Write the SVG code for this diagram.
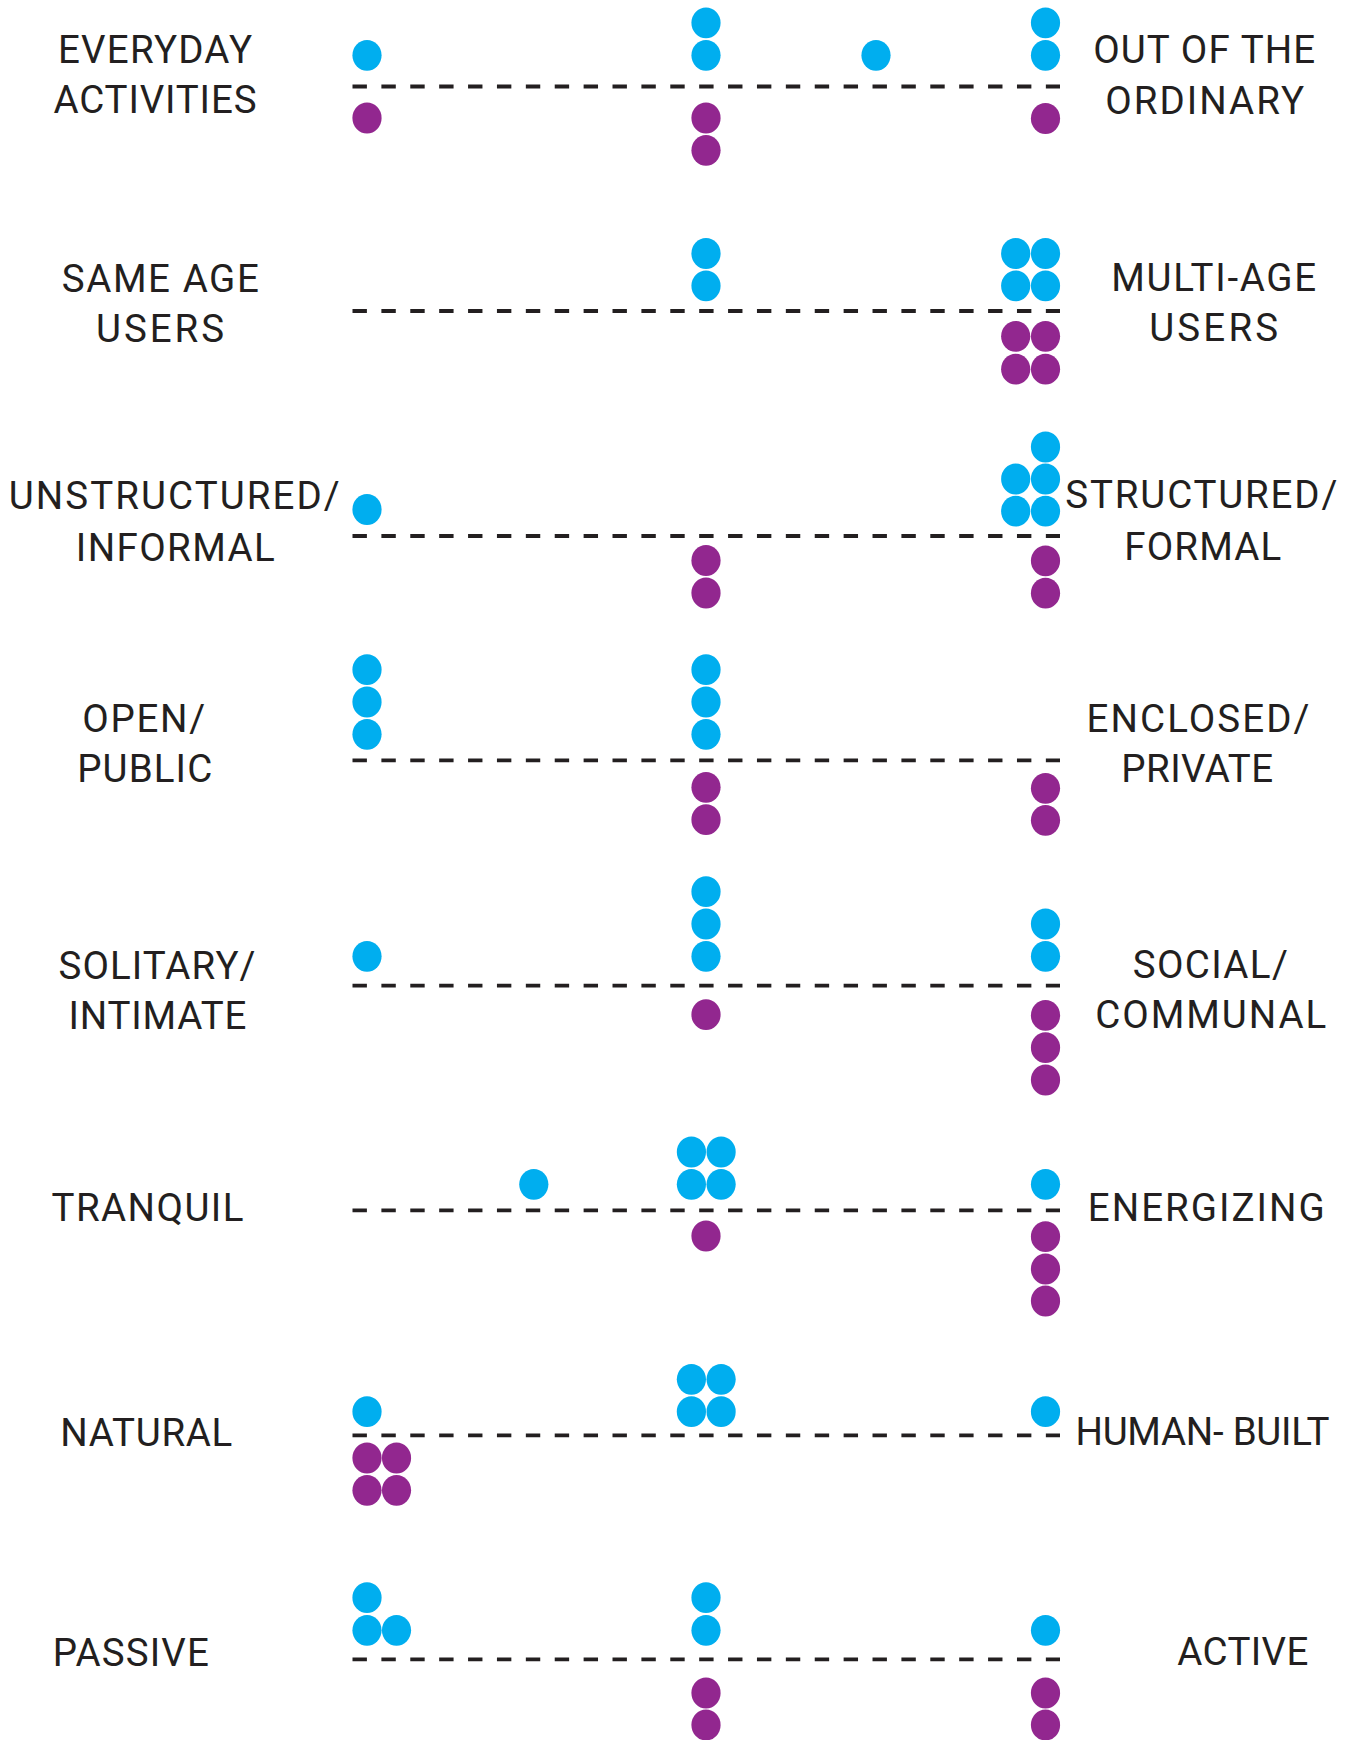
<svg xmlns="http://www.w3.org/2000/svg" width="1356" height="1740" viewBox="0 0 1356 1740">
<style>
.lbl{font-family:Roboto,"Liberation Sans",sans-serif;font-size:38.5px;fill:#231f20;text-anchor:middle}
.b{fill:#00aeef}
.p{fill:#92278f}
.axis{stroke:#231f20;stroke-width:3.8;stroke-dasharray:14.4 14.49;fill:none}
</style>
<defs>
<ellipse id="d" cx="0" cy="0" rx="14.6" ry="15.4"/>
</defs>
<rect width="1356" height="1740" fill="#ffffff"/>
<g id="axes">
<line class="axis" x1="352.5" y1="86.5" x2="1060" y2="86.5"/>
<line class="axis" x1="352.5" y1="311" x2="1060" y2="311"/>
<line class="axis" x1="352.5" y1="536" x2="1060" y2="536"/>
<line class="axis" x1="352.5" y1="760.3" x2="1060" y2="760.3"/>
<line class="axis" x1="352.5" y1="985.7" x2="1060" y2="985.7"/>
<line class="axis" x1="352.5" y1="1210.3" x2="1060" y2="1210.3"/>
<line class="axis" x1="352.5" y1="1435.3" x2="1060" y2="1435.3"/>
<line class="axis" x1="352.5" y1="1659.3" x2="1060" y2="1659.3"/>
</g>
<g id="row1">
<text class="lbl" x="155" y="62.7" textLength="194" lengthAdjust="spacing">EVERYDAY</text>
<text class="lbl" x="155" y="113.3" textLength="203" lengthAdjust="spacing">ACTIVITIES</text>
<text class="lbl" x="1204.2" y="63.4" textLength="222" lengthAdjust="spacing">OUT OF THE</text>
<text class="lbl" x="1204.7" y="114.3" textLength="199" lengthAdjust="spacing">ORDINARY</text>
<use href="#d" class="b" x="367" y="55.3"/>
<use href="#d" class="b" x="706" y="22.8"/>
<use href="#d" class="b" x="706" y="55.3"/>
<use href="#d" class="b" x="876" y="55.3"/>
<use href="#d" class="b" x="1045.5" y="22.8"/>
<use href="#d" class="b" x="1045.5" y="55.3"/>
<use href="#d" class="p" x="367" y="118"/>
<use href="#d" class="p" x="706" y="118"/>
<use href="#d" class="p" x="706" y="150.3"/>
<use href="#d" class="p" x="1045.5" y="118.5"/>
</g>
<g id="row2">
<text class="lbl" x="160.3" y="291.9" textLength="197" lengthAdjust="spacing">SAME AGE</text>
<text class="lbl" x="160" y="341.9" textLength="128" lengthAdjust="spacing">USERS</text>
<text class="lbl" x="1213.7" y="290.8" textLength="205" lengthAdjust="spacing">MULTI-AGE</text>
<text class="lbl" x="1213.7" y="340.8" textLength="129" lengthAdjust="spacing">USERS</text>
<use href="#d" class="b" x="706" y="253.5"/>
<use href="#d" class="b" x="706" y="285.8"/>
<use href="#d" class="b" x="1015.7" y="253.5"/>
<use href="#d" class="b" x="1045.5" y="253.5"/>
<use href="#d" class="b" x="1015.7" y="285.8"/>
<use href="#d" class="b" x="1045.5" y="285.8"/>
<use href="#d" class="p" x="1015.7" y="336.3"/>
<use href="#d" class="p" x="1045.5" y="336.3"/>
<use href="#d" class="p" x="1015.7" y="369.2"/>
<use href="#d" class="p" x="1045.5" y="369.2"/>
</g>
<g id="row3">
<text class="lbl" x="174.2" y="508.9" textLength="331" lengthAdjust="spacing">UNSTRUCTURED/</text>
<text class="lbl" x="175.3" y="560.8" textLength="199" lengthAdjust="spacing">INFORMAL</text>
<text class="lbl" x="1201.3" y="507.7" textLength="272" lengthAdjust="spacing">STRUCTURED/</text>
<text class="lbl" x="1202.8" y="559.6" textLength="157" lengthAdjust="spacing">FORMAL</text>
<use href="#d" class="b" x="367" y="509.5"/>
<use href="#d" class="b" x="1045.5" y="447"/>
<use href="#d" class="b" x="1015.7" y="479"/>
<use href="#d" class="b" x="1045.5" y="479"/>
<use href="#d" class="b" x="1015.7" y="511.2"/>
<use href="#d" class="b" x="1045.5" y="511.2"/>
<use href="#d" class="p" x="706" y="560.5"/>
<use href="#d" class="p" x="706" y="593"/>
<use href="#d" class="p" x="1045.5" y="560.8"/>
<use href="#d" class="p" x="1045.5" y="593.2"/>
</g>
<g id="row4">
<text class="lbl" x="143.7" y="731.5" textLength="123" lengthAdjust="spacing">OPEN/</text>
<text class="lbl" x="144.7" y="781.5" textLength="135" lengthAdjust="spacing">PUBLIC</text>
<text class="lbl" x="1198" y="732.3" textLength="223" lengthAdjust="spacing">ENCLOSED/</text>
<text class="lbl" x="1197.2" y="782.3" textLength="152" lengthAdjust="spacing">PRIVATE</text>
<use href="#d" class="b" x="367" y="669.7"/>
<use href="#d" class="b" x="367" y="702"/>
<use href="#d" class="b" x="367" y="734.3"/>
<use href="#d" class="b" x="706" y="669.7"/>
<use href="#d" class="b" x="706" y="702"/>
<use href="#d" class="b" x="706" y="734.3"/>
<use href="#d" class="p" x="706" y="787.3"/>
<use href="#d" class="p" x="706" y="819.7"/>
<use href="#d" class="p" x="1045.5" y="788.3"/>
<use href="#d" class="p" x="1045.5" y="820.3"/>
</g>
<g id="row5">
<text class="lbl" x="157" y="978.7" textLength="197" lengthAdjust="spacing">SOLITARY/</text>
<text class="lbl" x="157.5" y="1028.7" textLength="178" lengthAdjust="spacing">INTIMATE</text>
<text class="lbl" x="1210.3" y="977.5" textLength="155" lengthAdjust="spacing">SOCIAL/</text>
<text class="lbl" x="1210.8" y="1027.5" textLength="231" lengthAdjust="spacing">COMMUNAL</text>
<use href="#d" class="b" x="367" y="956.3"/>
<use href="#d" class="b" x="706" y="891.7"/>
<use href="#d" class="b" x="706" y="924"/>
<use href="#d" class="b" x="706" y="956.3"/>
<use href="#d" class="b" x="1045.5" y="924"/>
<use href="#d" class="b" x="1045.5" y="956.3"/>
<use href="#d" class="p" x="706" y="1014.7"/>
<use href="#d" class="p" x="1045.5" y="1015.3"/>
<use href="#d" class="p" x="1045.5" y="1047.7"/>
<use href="#d" class="p" x="1045.5" y="1080"/>
</g>
<g id="row6">
<text class="lbl" x="147.5" y="1221.1" textLength="192" lengthAdjust="spacing">TRANQUIL</text>
<text class="lbl" x="1206.3" y="1221" textLength="237" lengthAdjust="spacing">ENERGIZING</text>
<use href="#d" class="b" x="533.8" y="1184.3"/>
<use href="#d" class="b" x="691.4" y="1152"/>
<use href="#d" class="b" x="721.1" y="1152"/>
<use href="#d" class="b" x="691.4" y="1184.3"/>
<use href="#d" class="b" x="721.1" y="1184.3"/>
<use href="#d" class="b" x="1045.5" y="1184.3"/>
<use href="#d" class="p" x="706" y="1236"/>
<use href="#d" class="p" x="1045.5" y="1236.7"/>
<use href="#d" class="p" x="1045.5" y="1269"/>
<use href="#d" class="p" x="1045.5" y="1301"/>
</g>
<g id="row7">
<text class="lbl" x="146.3" y="1445.7" textLength="172" lengthAdjust="spacing">NATURAL</text>
<text class="lbl" x="1202.5" y="1444.5" textLength="254" lengthAdjust="spacing">HUMAN- BUILT</text>
<use href="#d" class="b" x="367" y="1411.7"/>
<use href="#d" class="b" x="691.4" y="1379.3"/>
<use href="#d" class="b" x="721.1" y="1379.3"/>
<use href="#d" class="b" x="691.4" y="1411.7"/>
<use href="#d" class="b" x="721.1" y="1411.7"/>
<use href="#d" class="b" x="1045.5" y="1411.7"/>
<use href="#d" class="p" x="367" y="1458"/>
<use href="#d" class="p" x="396.5" y="1458"/>
<use href="#d" class="p" x="367" y="1490.3"/>
<use href="#d" class="p" x="396.5" y="1490.3"/>
</g>
<g id="row8">
<text class="lbl" x="130.8" y="1665.5" textLength="156" lengthAdjust="spacing">PASSIVE</text>
<text class="lbl" x="1242.8" y="1665" textLength="131" lengthAdjust="spacing">ACTIVE</text>
<use href="#d" class="b" x="367" y="1597.7"/>
<use href="#d" class="b" x="367" y="1630.3"/>
<use href="#d" class="b" x="396.5" y="1630.3"/>
<use href="#d" class="b" x="706" y="1597.7"/>
<use href="#d" class="b" x="706" y="1630.3"/>
<use href="#d" class="b" x="1045.5" y="1630.3"/>
<use href="#d" class="p" x="706" y="1693"/>
<use href="#d" class="p" x="706" y="1725"/>
<use href="#d" class="p" x="1045.5" y="1693"/>
<use href="#d" class="p" x="1045.5" y="1725"/>
</g>
</svg>
